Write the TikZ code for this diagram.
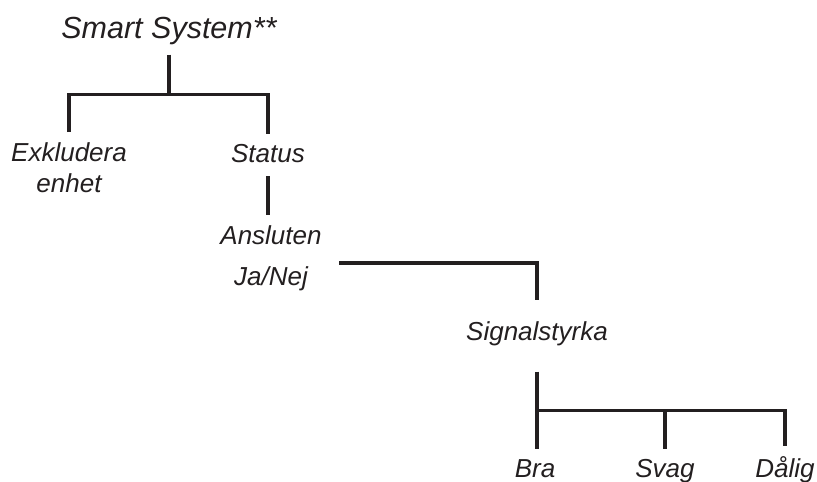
\documentclass[tikz,border=0pt]{standalone}
\usepackage{fontspec}
\setmainfont{Liberation Sans}
\definecolor{ink}{HTML}{231F20}
\tikzset{
  lbl/.style={inner xsep=0pt, inner ysep=10pt, text=ink,
    font=\fontsize{26}{31}\selectfont\itshape},
  branch/.style={draw=ink, line width=3.3pt},
}
\begin{document}
\begin{tikzpicture}[x=1pt, y=-1pt]
\useasboundingbox (0,0) rectangle (817,482);
% menu entries
\node[lbl, anchor=base, font=\fontsize{30.5}{36}\selectfont\itshape] (root) at (169,38) {Smart System**};
\node[lbl, anchor=north, align=center] (excl) at (69,132) {Exkludera\\enhet};
\node[lbl, anchor=base] (stat) at (268,162) {Status};
\node[lbl, anchor=base] (ans)  at (271,244) {Ansluten};
\node[lbl, anchor=base] (jn)   at (271,285) {Ja/Nej};
\node[lbl, anchor=base] (sig)  at (537,340) {Signalstyrka};
\node[lbl, anchor=base] (bra)  at (535,477) {Bra};
\node[lbl, anchor=base] (svag) at (665,477) {Svag};
\node[lbl, anchor=base] (dal)  at (785,477) {Dålig};
% Smart System -> Exkludera enhet / Status
\draw[branch] (root.south) -- ++(0,40) coordinate (rootbar);
\draw[branch] (excl.north) |- (rootbar) -| (stat.north);
% Status -> Ansluten
\draw[branch, shorten <=4pt] (stat.south) -- (stat.south |- ans.north);
% Ja/Nej -> Signalstyrka
\draw[branch] ([xshift=31pt, yshift=-7pt]jn.north east) -| ([yshift=11pt]sig.north);
% Signalstyrka -> Bra / Svag / Dålig
\coordinate (sigbar) at ([yshift=-55pt]sig.south);
\draw[branch, shorten <=16pt] (sig.south) -- (sigbar);
\draw[branch] (sigbar |- bra.north) -- (sigbar) -| (dal.north);
\draw[branch] (svag.north |- sigbar) -- (svag.north);
\end{tikzpicture}
\end{document}
